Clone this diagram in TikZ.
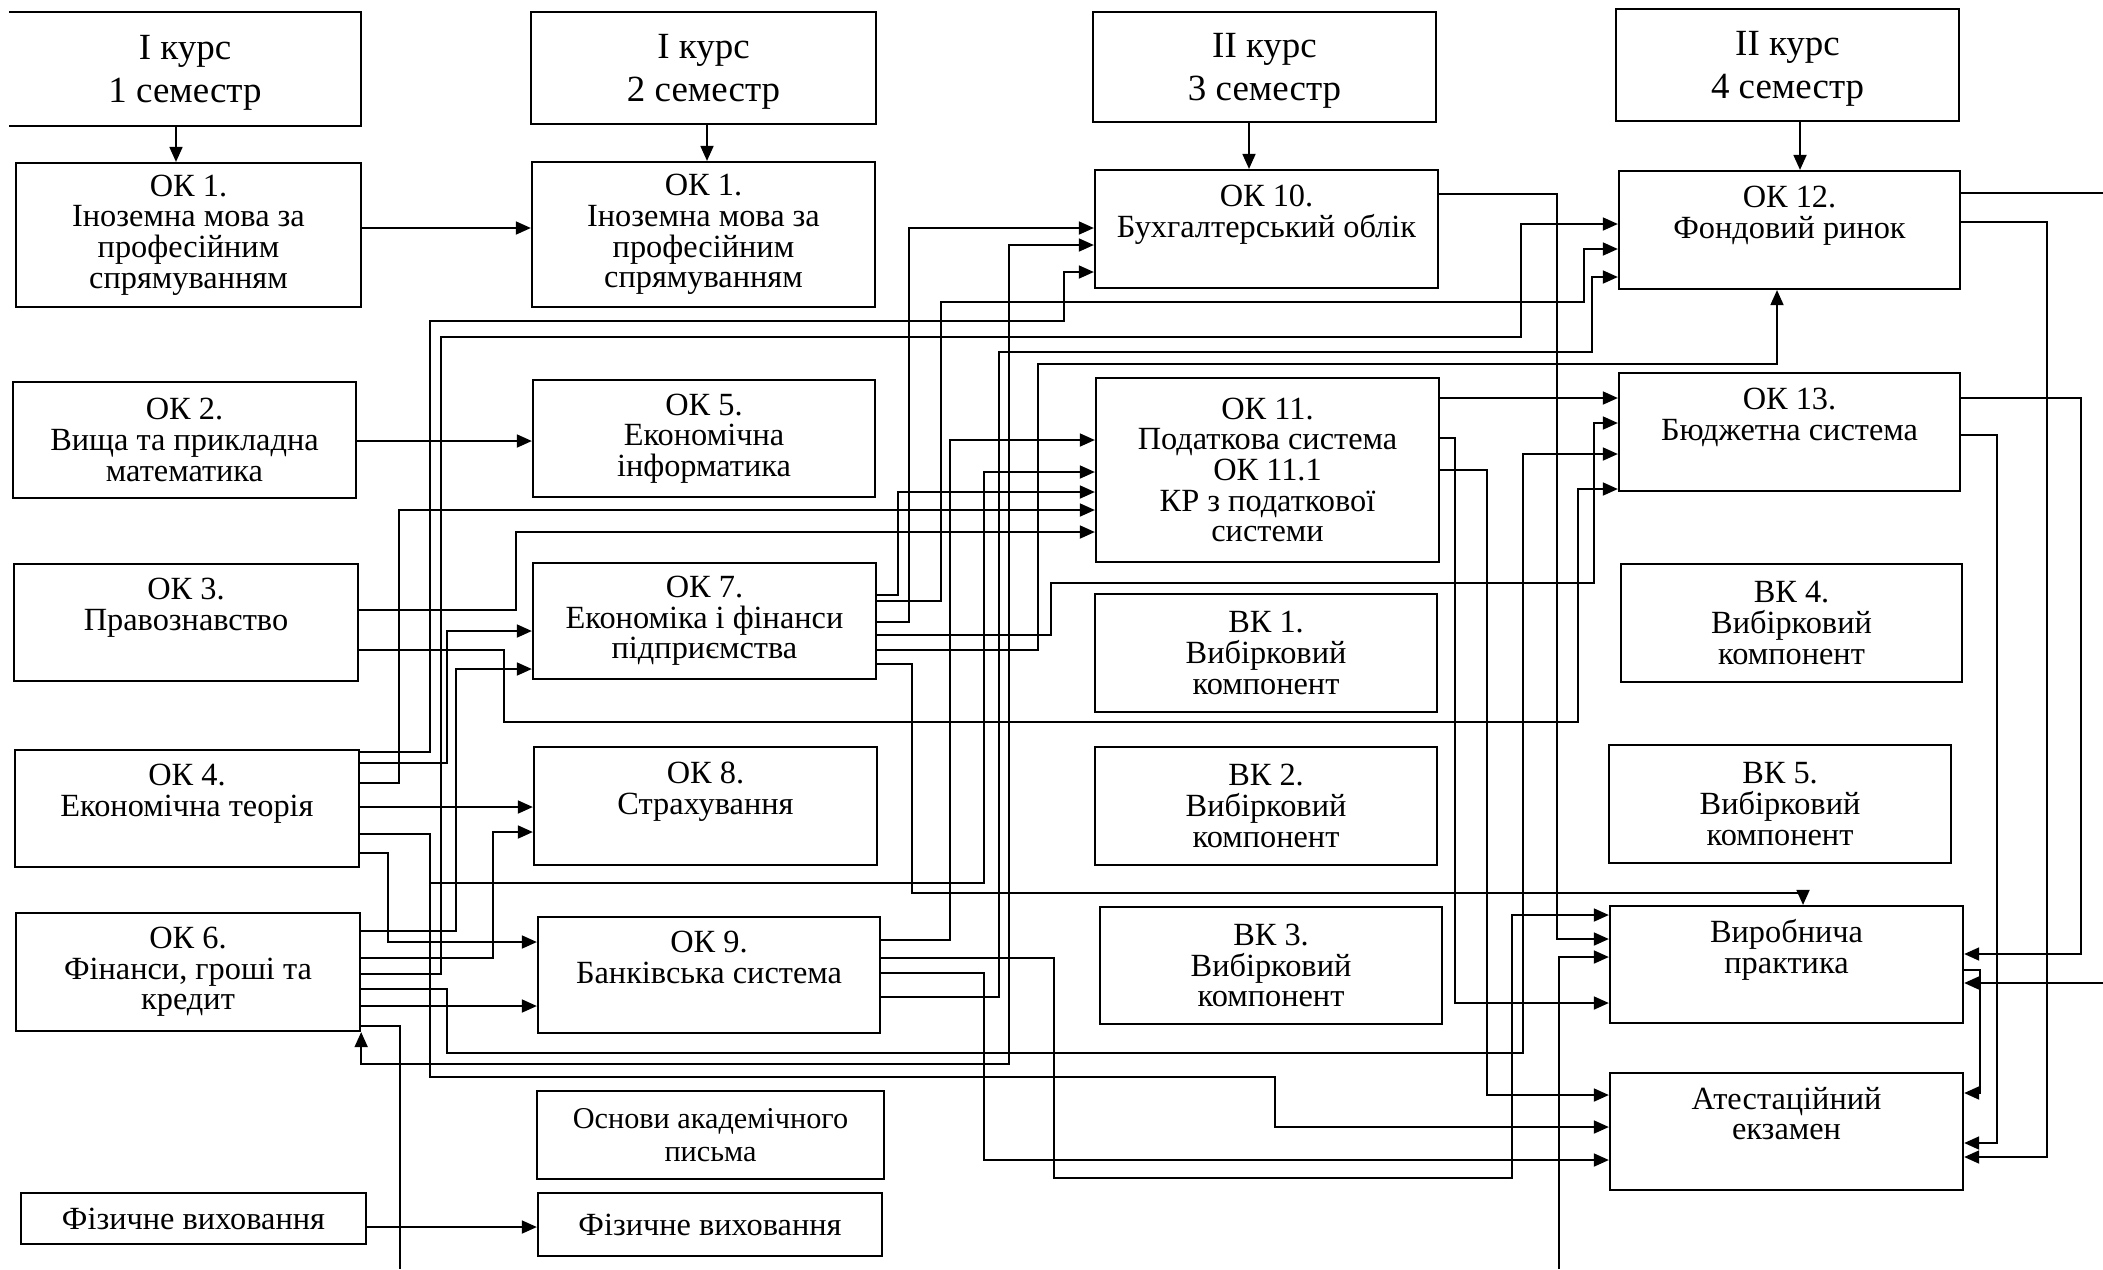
\documentclass[tikz,border=0pt]{standalone}
\usepackage{fontspec}
\setmainfont{Liberation Serif}
\usetikzlibrary{arrows.meta}
\tikzset{
    box/.style={draw, rectangle, align=center, inner sep=1pt, line width=0.6pt,
    	font=\fontsize{9.2}{8.7}\selectfont},
    head/.style={box, text depth=0pt, font=\fontsize{10.5}{12.4}\selectfont},
    lifted/.style={text depth=0.36cm},
    plain/.style={line width=0.5pt},
    arr/.style={plain, -{Triangle[length=1.5mm, width=1.3mm]}},
    arr2/.style={plain, {Triangle[length=1.5mm, width=1.3mm]}-{Triangle[length=1.5mm, width=1.3mm]}}
}

\begin{document}
\begin{tikzpicture}[x=0.01cm, y=-0.01cm]
	\useasboundingbox (0,0) rectangle (2103,1269);

	\node (h1) [head, draw=none, minimum width=3.50cm, minimum height=1.12cm] at (185, 69) {I курс\\1 семестр};
	\node (h2) [head, minimum width=3.45cm, minimum height=1.12cm] at (703.5, 68) {I курс\\2 семестр};
	\node (h3) [head, minimum width=3.43cm, minimum height=1.10cm] at (1264.5, 67) {II курс\\3 семестр};
	\node (h4) [head, minimum width=3.43cm, minimum height=1.12cm] at (1787.5, 65) {II курс\\4 семестр};
	\draw[line width=0.6pt] (h1.north west) -- (h1.north east) -- (h1.south east) -- (h1.south west);

	\node (ok1a) [box, minimum width=3.45cm, minimum height=1.44cm] at (188.5, 235) {ОК 1.\\Іноземна мова за\\професійним\\спрямуванням};
	\node (ok2) [box, minimum width=3.43cm, minimum height=1.16cm] at (184.5, 440) {ОК 2.\\Вища та прикладна\\математика};
	\node (ok3) [box, lifted, minimum width=3.44cm, minimum height=1.17cm] at (186, 622.5) {ОК 3.\\Правознавство};
	\node (ok4) [box, lifted, minimum width=3.44cm, minimum height=1.17cm] at (187, 808.5) {ОК 4.\\Економічна теорія};
	\node (ok6) [box, minimum width=3.44cm, minimum height=1.18cm] at (188, 972) {ОК 6.\\Фінанси, гроші та\\кредит};
	\node (fiz1) [box, minimum width=3.45cm, minimum height=0.51cm] at (193.5, 1218.5) {Фізичне виховання};

	\node (ok1b) [box, minimum width=3.43cm, minimum height=1.45cm] at (703.5, 234.5) {ОК 1.\\Іноземна мова за\\професійним\\спрямуванням};
	\node (ok5) [box, minimum width=3.42cm, minimum height=1.17cm] at (704, 438.5) {ОК 5.\\Економічна\\інформатика};
	\node (ok7) [box, minimum width=3.43cm, minimum height=1.16cm] at (704.5, 621) {ОК 7.\\Економіка і фінанси\\підприємства};
	\node (ok8) [box, lifted, minimum width=3.43cm, minimum height=1.18cm] at (705.5, 806) {ОК 8.\\Страхування};
	\node (ok9) [box, lifted, minimum width=3.42cm, minimum height=1.16cm] at (709, 975) {ОК 9.\\Банківська система};
	\node (osn) [box, font=\fontsize{8.6}{9.2}\selectfont, minimum width=3.47cm, minimum height=0.88cm] at (710.5, 1135) {Основи академічного\\письма};
	\node (fiz2) [box, minimum width=3.44cm, minimum height=0.63cm] at (710, 1224.5) {Фізичне виховання};

	\node (ok10) [box, lifted, minimum width=3.43cm, minimum height=1.18cm] at (1266.5, 229) {ОК 10.\\Бухгалтерський облік};
	\node (ok11) [box, minimum width=3.43cm, minimum height=1.84cm] at (1267.5, 470) {ОК 11.\\Податкова система\\ОК 11.1\\КР з податкової\\системи};
	\node (vk1) [box, minimum width=3.42cm, minimum height=1.18cm] at (1266, 653) {ВК 1.\\Вибірковий\\компонент};
	\node (vk2) [box, minimum width=3.42cm, minimum height=1.18cm] at (1266, 806) {ВК 2.\\Вибірковий\\компонент};
	\node (vk3) [box, minimum width=3.42cm, minimum height=1.17cm] at (1271, 965.5) {ВК 3.\\Вибірковий\\компонент};

	\node (ok12) [box, lifted, minimum width=3.41cm, minimum height=1.18cm] at (1789.5, 230) {ОК 12.\\Фондовий ринок};
	\node (ok13) [box, lifted, minimum width=3.41cm, minimum height=1.18cm] at (1789.5, 432) {ОК 13.\\Бюджетна система};
	\node (vk4) [box, minimum width=3.41cm, minimum height=1.18cm] at (1791.5, 623) {ВК 4.\\Вибірковий\\компонент};
	\node (vk5) [box, minimum width=3.42cm, minimum height=1.18cm] at (1780, 804) {ВК 5.\\Вибірковий\\компонент};
	\node (vp) [box, lifted, minimum width=3.53cm, minimum height=1.17cm] at (1786.5, 964.5) {Виробнича\\практика};
	\node (ae) [box, lifted, minimum width=3.53cm, minimum height=1.17cm] at (1786.5, 1131.5) {Атестаційний\\екзамен};

	\coordinate (cut1) at (400, 1269);
	\coordinate (cut2) at (1559, 1269);
	\coordinate (cut3) at (2103, 193);
	\coordinate (cut4) at (2103, 983);

	\draw[arr] (h1.south -| 176,0) -- (ok1a.north -| 176,0);
	\draw[arr] (h2.south -| 707,0) -- (ok1b.north -| 707,0);
	\draw[arr] (h3.south -| 1249,0) -- (ok10.north -| 1249,0);
	\draw[arr] (h4.south -| 1800,0) -- (ok12.north -| 1800,0);

	\draw[arr] (ok1a.east |- 0,228) -- (ok1b.west |- 0,228);
	\draw[arr] (ok2.east |- 0,441) -- (ok5.west |- 0,441);
	\draw[arr] (ok4.east |- 0,807) -- (ok8.west |- 0,807);
	\draw[arr] (ok6.east |- 0,1006) -- (ok9.west |- 0,1006);
	\draw[arr] (fiz1.east |- 0,1227) -- (fiz2.west |- 0,1227);
	\draw[arr] (ok11.east |- 0,398) -- (ok13.west |- 0,398);

	\draw[arr] (ok3.east |- 0,610) -| (516,532) -- (ok11.west |- 0,532);
	\draw[arr] (ok3.east |- 0,650) -| (504,722) -| (1578,489) -- (ok13.west |- 0,489);

	\draw[arr] (ok4.east |- 0,752) -| (430,321) -| (1064,272) -- (ok10.west |- 0,272);
	\draw[arr] (ok4.east |- 0,763) -| (447,631) -- (ok7.west |- 0,631);
	\draw[arr] (ok4.east |- 0,783) -| (399,510) -- (ok11.west |- 0,510);
	\draw[arr] (ok4.east |- 0,834) -| (430,1077) -| (1275,1127) -- (ae.west |- 0,1127);
	\draw[arr] (ok4.east |- 0,834) -| (430,883) -| (984,472) -- (ok11.west |- 0,472);
	\draw[arr] (ok4.east |- 0,853) -| (388,942) -- (ok9.west |- 0,942);

	\draw[arr] (ok6.east |- 0,931) -| (456,669) -- (ok7.west |- 0,669);
	\draw[arr] (ok6.east |- 0,958) -| (493,832) -- (ok8.west |- 0,832);
	\draw[arr] (ok6.east |- 0,974) -| (441,337) -| (1521,224) -- (ok12.west |- 0,224);
	\draw[arr] (ok6.east |- 0,989) -| (447,1053) -| (1523,454) -- (ok13.west |- 0,454);
	\draw[plain] (ok6.east |- 0,1026) -| (cut1);
	\draw[arr2] (ok10.west |- 0,245) -| (1009,1064) -| (ok6.south east);

	\draw[arr] (ok7.east |- 0,595) -| (898,492) -- (ok11.west |- 0,492);
	\draw[arr] (ok7.east |- 0,601) -| (941,302) -| (1584,249) -- (ok12.west |- 0,249);
	\draw[arr] (ok7.east |- 0,622) -| (909,228) -- (ok10.west |- 0,228);
	\draw[arr] (ok7.east |- 0,635) -| (1051,583) -| (1594,423) -- (ok13.west |- 0,423);
	\draw[arr] (ok7.east |- 0,650) -| (1038,364) -| (ok12.south -| 1777,0);
	\draw[arr] (ok7.east |- 0,664) -| (912,893) -| (vp.north -| 1803,0);

	\draw[arr] (ok9.east |- 0,940) -| (950,440) -- (ok11.west |- 0,440);
	\draw[arr] (ok9.east |- 0,958) -| (1054,1178) -| (1512,915) -- (vp.west |- 0,915);
	\draw[arr] (ok9.east |- 0,973) -| (984,1160) -- (ae.west |- 0,1160);
	\draw[arr] (ok9.east |- 0,997) -| (999,352) -| (1592,277) -- (ok12.west |- 0,277);

	\draw[arr] (ok10.east |- 0,194) -| (1557,939) -- (vp.west |- 0,939);
	\draw[arr] (ok11.east |- 0,438) -| (1455,1003) -- (vp.west |- 0,1003);
	\draw[arr] (ok11.east |- 0,470) -| (1487,1095) -- (ae.west |- 0,1095);
	\draw[arr] (cut2) |- (vp.west |- 0,957);

	\draw[plain] (ok12.east |- 0,193) -- (cut3);
	\draw[arr] (ok12.east |- 0,222) -| (2047,1157) -- (ae.east |- 0,1157);
	\draw[arr] (cut4) -- (vp.east |- 0,983);
	\draw[arr] (ok13.east |- 0,398) -| (2081,954) -- (vp.east |- 0,954);
	\draw[arr] (ok13.east |- 0,435) -| (1997,1143) -- (ae.east |- 0,1143);
	\draw[arr] (vp.east |- 0,970) -| (1980,1093) -- (ae.east |- 0,1093);
\end{tikzpicture}
\end{document}
